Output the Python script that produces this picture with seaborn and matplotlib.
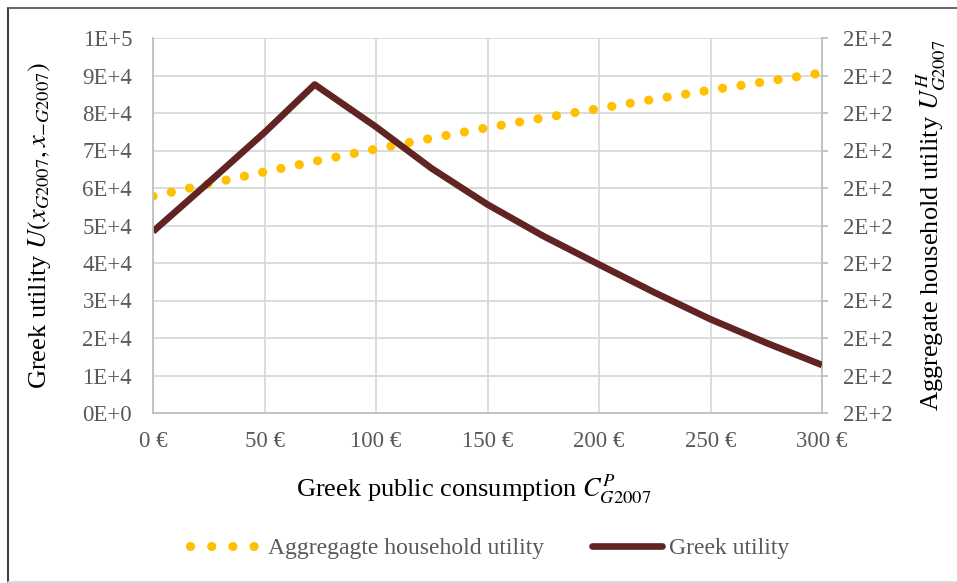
import matplotlib
matplotlib.use('Agg')
import matplotlib.pyplot as plt
from matplotlib.lines import Line2D
from matplotlib.ticker import FuncFormatter, MultipleLocator
import seaborn as sns

# values
greek_x = [0, 25, 50, 72.5, 100, 125, 150, 175, 200, 225, 250, 275, 300]
greek_u = [48400, 61500, 74800, 87600, 76300, 65200, 55600, 47200, 39600, 32100, 25000, 18700, 12800]

hh_x = [0, 25, 50, 75, 100, 125, 150, 175, 200, 225, 250, 275, 300]
hh_u = [207.8, 211.1, 214.3, 217.4, 220.4, 223.3, 226.1, 228.7, 231.2, 233.7, 236.1, 238.4, 240.7]

x_ticks = [0, 50, 100, 150, 200, 250, 300]

sns.set_style('white')
plt.rcParams['font.family'] = ['Liberation Serif', 'DejaVu Serif']
plt.rcParams['mathtext.fontset'] = 'stix'

red = '#622423'
gold = '#FFC000'
gray_txt = '#595959'
grid_c = '#D9D9D9'
spine_c = '#BFBFBF'
fs = 16.5
title_fs = 19

fig = plt.figure(figsize=(9.57, 5.83), dpi=100)
ax = fig.add_axes([153/957, 1 - 413/583, 669/957, 375/583])
ax2 = ax.twinx()

# household utility on the right axis, drawn underneath
dot_lw = 6.6
sns.lineplot(x=hh_x, y=hh_u, ax=ax2, color=gold, lw=dot_lw,
             linestyle=(0, (0.01, 13.4 / dot_lw)), dash_capstyle='round',
             label='Aggregagte household utility')
sns.lineplot(x=greek_x, y=greek_u, ax=ax, color=red, lw=4.8,
             solid_capstyle='butt', label='Greek utility')

ax.set_zorder(2)
ax2.set_zorder(1)
ax.patch.set_visible(False)

ax.set_xlim(0, 300)
ax.set_ylim(0, 100000)
ax2.set_ylim(150, 250)
ax.set_xticks(x_ticks)
ax.xaxis.set_major_formatter(FuncFormatter(lambda v, p: f'{v:.0f} €'))
ax.yaxis.set_major_locator(MultipleLocator(10000))
ax2.yaxis.set_major_locator(MultipleLocator(10))


def sci(v, p):
    m, e = f'{v:.0E}'.split('E')
    return f'{m}E{e[0]}{int(e[1:])}'


ax.yaxis.set_major_formatter(FuncFormatter(sci))
ax2.yaxis.set_major_formatter(FuncFormatter(sci))

# grid lives on the lower axis so lines sit on top
ax2.grid(True, axis='y', color=grid_c, lw=1.3)
for v in x_ticks:
    ax2.axvline(v, color=grid_c, lw=1.3, zorder=0)
ax.grid(False)

for s in ['top', 'right']:
    ax.spines[s].set_visible(False)
for s in ['top', 'left', 'bottom']:
    ax2.spines[s].set_visible(False)
for s in ['left', 'bottom']:
    ax.spines[s].set_color(spine_c)
    ax.spines[s].set_linewidth(1.3)
ax2.spines['right'].set_color(spine_c)
ax2.spines['right'].set_linewidth(1.3)

ax.tick_params(axis='y', length=0, pad=15, labelsize=fs, labelcolor=gray_txt)
ax.tick_params(axis='x', length=0, pad=13, labelsize=fs, labelcolor=gray_txt)
ax2.tick_params(axis='y', length=4, width=1.3, color=spine_c, pad=11,
                labelsize=fs, labelcolor=gray_txt)

ax.set_ylabel(r'Greek utility $U(x_{G2007},x_{-G2007})$', fontsize=title_fs, color='black')
ax.yaxis.set_label_coords(-0.15, 0.5)
ax2.set_ylabel(r'Aggregate household utility $U^{H}_{G2007}$', fontsize=title_fs, color='black')
ax2.yaxis.set_label_coords(1.138, 0.5)
ax.set_xlabel(r'Greek public consumption $C^{P}_{G2007}$', fontsize=title_fs, color='black')
ax.xaxis.set_label_coords(0.48, -0.16)

ax.get_legend().remove()
ax2.get_legend().remove()
handles = [
    Line2D([], [], color=gold, lw=dot_lw, linestyle=(0, (0.01, 2.3)), dash_capstyle='round'),
    Line2D([], [], color=red, lw=4.8, solid_capstyle='round'),
]
leg = fig.legend(handles, ['Aggregagte household utility', 'Greek utility'],
                 loc='center', bbox_to_anchor=(0.512, 0.06), ncol=2, frameon=False,
                 fontsize=17, handlelength=3.0, handletextpad=0.3, columnspacing=2.0)
for t in leg.get_texts():
    t.set_color(gray_txt)

# chart border
fig.add_artist(Line2D([8/957, 8/957], [0, 1 - 8/583], color='#404040', lw=1.5,
                      transform=fig.transFigure))
fig.add_artist(Line2D([8/957, 1], [1 - 8/583, 1 - 8/583], color='#595959', lw=1.3,
                      transform=fig.transFigure))
fig.add_artist(Line2D([8/957, 1], [1/583, 1/583], color='#D9D9D9', lw=1.3,
                      transform=fig.transFigure))

fig.savefig('out.png', dpi=100)
